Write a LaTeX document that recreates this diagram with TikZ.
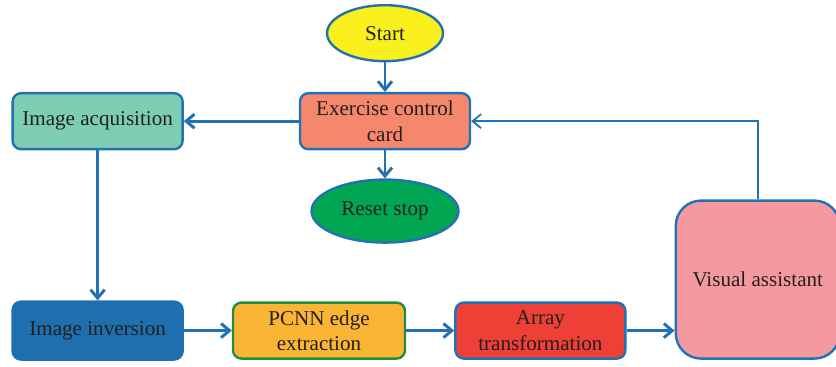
\documentclass[tikz,border=0pt]{standalone}
\usepackage{fontspec}
\setmainfont{Liberation Serif}
\usepackage{xcolor}
\usepackage{tikz}
\usetikzlibrary{arrows.meta, positioning, shapes.geometric}

\definecolor{trait}{HTML}{2271B3}
\definecolor{texte}{HTML}{231F20}
\definecolor{jaune}{HTML}{FAF01E}
\definecolor{saumon}{HTML}{F4876C}
\definecolor{turquoise}{HTML}{7DCDB5}
\definecolor{vert}{HTML}{00A651}
\definecolor{bleu}{HTML}{1F6FAE}
\definecolor{orange}{HTML}{FBB534}
\definecolor{vertfonce}{HTML}{1E8F3A}
\definecolor{rouge}{HTML}{EE4036}
\definecolor{rose}{HTML}{F599A0}

\begin{document}
\begin{tikzpicture}[
        % Styles communs
        every node/.style = {font=\fontsize{15}{18}\selectfont, text=texte},
        % Ellipses de début et de fin
        terminal/.style = {
            ellipse,
            draw=trait,
            line width=1.7pt,
            minimum width=2.9cm,
            minimum height=1.4cm
        },
        % Blocs standards
        block/.style = {
            rectangle,
            draw=trait,
            line width=1.7pt,
            minimum width=4.25cm,
            minimum height=1.4cm,
            rounded corners=6pt,
            align=center
        },
        % Flèches
        arrow/.style = {
            -{Straight Barb[length=6pt, width=10pt]},
            line width=2.1pt,
            draw=trait
        },
        % Flèche de retour (plus fine)
        fback/.style = {
            -{Straight Barb[length=6pt, width=10pt]},
            line width=1.3pt,
            draw=trait
        }
    ]

        % 0. Cadre de la figure
        \useasboundingbox (0,0) rectangle (20.9,-9.15);

        % 1. Placement des nœuds
        \node (start)  [terminal, fill=jaune] at (9.625,-0.83) {Start};
        \node (ctrl)   [block, fill=saumon, below=0.74cm of start] {Exercise control\\card};
        \node (reset)  [terminal, fill=vert, minimum width=3.675cm, minimum height=1.575cm, below=0.7cm of ctrl] {Reset stop};
        \node (acq)    [block, fill=turquoise, left=2.875cm of ctrl] {Image acquisition};
        \node (inv)    [block, fill=bleu, draw=bleu, minimum height=1.45cm, below=3.75cm of acq] {Image inversion};
        \node (pcnn)   [block, fill=orange, draw=vertfonce, minimum width=4.3cm, right=1.2cm of inv] {PCNN edge\\extraction};
        \node (array)  [block, fill=rouge, right=1.2cm of pcnn] {Array\\transformation};
        \node (visual) [block, fill=rose, minimum width=4.1cm, minimum height=3.95cm, rounded corners=18pt,
                        right=1.2cm of array.south east, anchor=south west] {Visual assistant};

        % 2. Tracé des flèches
        \draw [arrow] (start) -- (ctrl);
        \draw [arrow] (ctrl) -- (reset);
        \draw [arrow] (ctrl) -- (acq);
        \draw [arrow] (acq) -- (inv);
        \draw [arrow] (inv) -- (pcnn);
        \draw [arrow] (pcnn) -- (array);
        \draw [arrow] (array) -- (visual.west |- array.east);

        % 3. Boucle de retour
        \draw [fback] (visual.north) |- (ctrl.east);

    \end{tikzpicture}
\end{document}
